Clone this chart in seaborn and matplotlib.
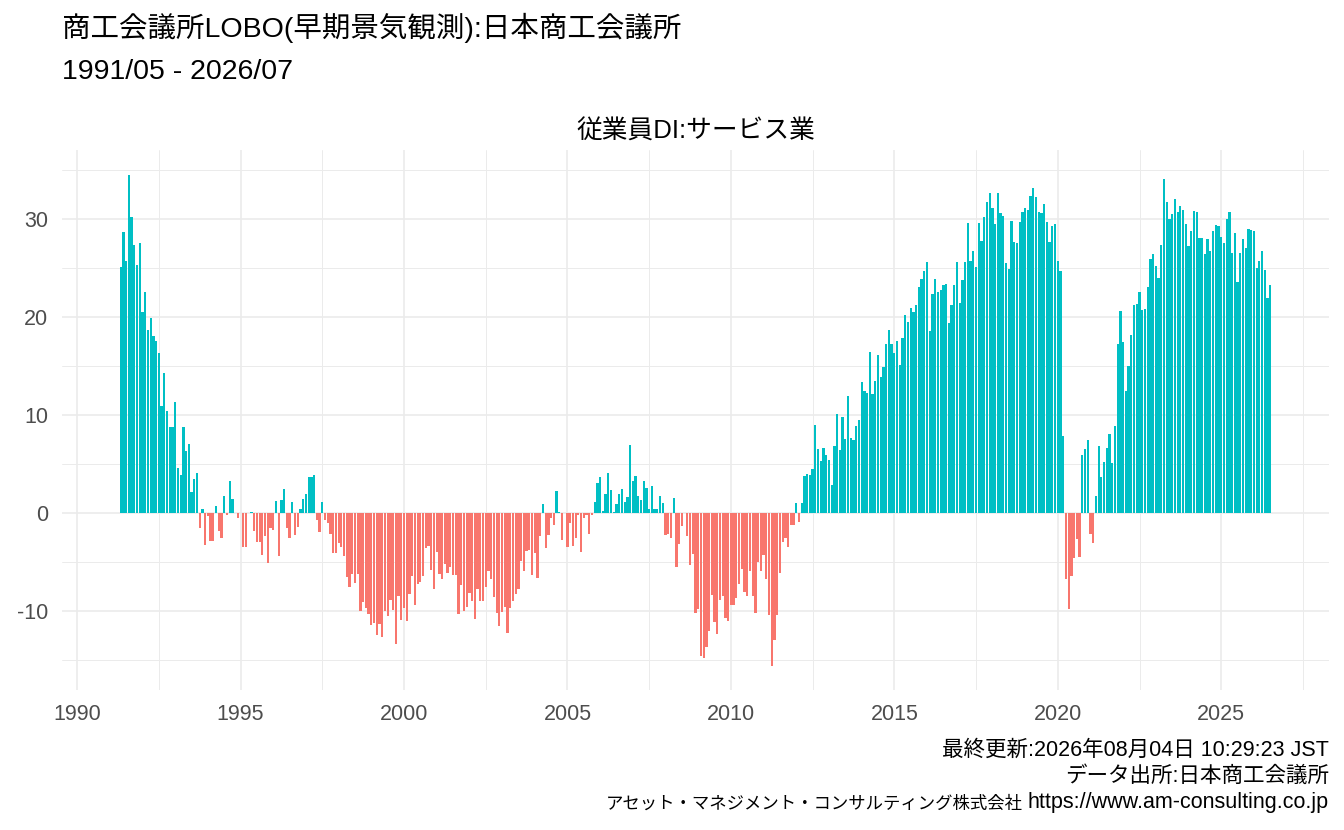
import numpy as np
import pandas as pd
import seaborn as sns
import matplotlib
matplotlib.use("Agg")
import matplotlib.pyplot as plt
from matplotlib.ticker import FixedLocator

# Monthly employee DI (service sector).
di_1991 = [25.1, 28.7, 25.7, 34.5, 30.2, 27.3, 25.3, 27.5]  # May-Dec
di_1992 = [20.5, 22.5, 18.7, 19.9, 18.1, 17.5, 16.3, 10.9, 14.3, 10.4, 8.8, 8.8]
di_1993 = [11.3, 4.6, 3.9, 8.8, 6.3, 7.0, 2.1, 3.5, 4.1, -1.5, 0.4, -3.3]
di_1994 = [-0.3, -2.9, -2.9, 0.7, -1.8, -2.6, 1.7, -0.2, 3.3, 1.4, 0.0, -0.5]
di_1995 = [0.0, -3.5, -3.5, 0.0, 0.1, -1.8, -3.0, -3.0, -4.3, -2.3, -5.1, -1.5]
di_1996 = [-1.7, 1.2, -4.4, 1.3, 2.5, -1.5, -2.6, 1.1, -2.2, -1.4, 0.4, 1.4]
di_1997 = [1.9, 3.7, 3.7, 3.9, -0.7, -1.9, 1.1, -0.7, -1.0, -2.1, -4.1, -4.1]
di_1998 = [-3.1, -3.5, -4.4, -6.5, -7.6, -6.2, -7.1, -6.2, -10.0, -9.1, -9.7, -10.3]
di_1999 = [-11.4, -11.2, -12.4, -11.3, -12.7, -10.0, -10.5, -8.9, -9.9, -13.4, -8.5, -10.9]
di_2000 = [-9.7, -11.0, -8.3, -6.4, -9.4, -7.2, -7.0, -6.4, -3.6, -3.4, -5.8, -7.8]
di_2001 = [-4.0, -6.2, -6.7, -5.2, -6.1, -5.5, -6.3, -6.3, -10.3, -7.3, -10.0, -9.6]
di_2002 = [-8.2, -9.0, -10.8, -7.8, -9.0, -9.0, -7.6, -5.9, -6.7, -8.6, -10.2, -11.5]
di_2003 = [-10.1, -9.6, -12.2, -9.7, -9.0, -8.3, -7.8, -4.9, -5.9, -3.9, -3.8, -6.3]
di_2004 = [-4.1, -6.6, -2.3, 0.9, -3.6, -2.2, -0.5, -1.2, 2.2, 0.1, -2.8, 0.0]
di_2005 = [-3.5, -1.0, -3.4, -2.6, -0.2, -4.0, -0.5, -0.2, -2.1, -0.2, 1.1, 3.1]
di_2006 = [3.7, 0.2, 1.9, 4.1, 2.3, 0.1, 0.9, 1.9, 2.4, 1.1, 1.6, 6.9]
di_2007 = [3.3, 3.8, 1.7, 1.3, 3.3, 2.6, 0.4, 2.8, 0.4, 0.4, 1.7, 1.0]
di_2008 = [-2.2, -2.1, -2.6, 1.5, -5.5, -3.2, -1.3, 0.0, -2.3, -5.3, -4.2, -10.2]
di_2009 = [-9.8, -14.6, -14.8, -13.7, -12.0, -8.4, -11.1, -12.3, -8.9, -8.5, -10.7, -11.0]
di_2010 = [-9.4, -9.4, -8.7, -7.2, -5.7, -8.1, -8.5, -5.9, -8.5, -10.2, -5.0, -5.9]
di_2011 = [-4.3, -6.7, -10.4, -15.6, -13.0, -10.4, -6.1, -3.0, -2.6, -3.5, -1.2, -1.2]
di_2012 = [1.0, -0.9, 1.0, 3.8, 4.0, 3.9, 4.5, 9.0, 6.5, 5.3, 6.6, 5.9]
di_2013 = [5.4, 2.9, 6.8, 10.1, 6.4, 9.8, 7.6, 11.9, 7.7, 7.4, 8.9, 9.5]
di_2014 = [13.4, 12.5, 12.2, 16.4, 12.1, 13.5, 16.1, 13.9, 14.9, 17.2, 18.7, 17.2]
di_2015 = [16.3, 17.5, 15.1, 17.9, 20.2, 19.5, 20.9, 20.5, 21.2, 23.1, 23.9, 24.7]
di_2016 = [25.6, 18.6, 22.3, 23.9, 22.6, 22.8, 23.3, 23.4, 19.4, 21.2, 23.3, 25.6]
di_2017 = [21.4, 23.8, 25.6, 29.6, 25.7, 26.7, 25.1, 29.6, 27.8, 30.2, 31.7, 32.7]
di_2018 = [31.1, 29.5, 32.7, 30.6, 30.3, 25.5, 24.9, 29.8, 27.7, 27.6, 29.7, 30.7]
di_2019 = [31.1, 30.9, 32.3, 33.2, 32.2, 30.7, 30.6, 31.5, 29.7, 27.7, 29.3, 29.5]
di_2020 = [25.7, 24.7, 7.9, -6.7, -9.8, -6.4, -4.6, -2.7, -4.5, 5.9, 6.5, 7.4]
di_2021 = [-2.1, -3.1, 1.7, 6.8, 3.7, 5.2, 6.6, 8.1, 5.1, 8.9, 17.2, 20.6]
di_2022 = [17.4, 12.4, 15.0, 18.2, 21.2, 21.3, 22.6, 20.7, 20.8, 23.1, 25.9, 26.4]
di_2023 = [25.2, 24.0, 27.3, 34.1, 31.7, 30.0, 30.5, 32.0, 30.7, 31.3, 30.9, 29.5]
di_2024 = [27.2, 28.8, 30.8, 30.7, 28.1, 28.1, 26.4, 28.0, 26.7, 28.8, 29.4, 29.3]
di_2025 = [28.2, 27.5, 30.0, 30.7, 26.5, 28.6, 23.6, 26.5, 28.0, 27.0, 29.0, 28.9]
di_2026 = [28.8, 25.0, 25.7, 26.7, 24.8, 21.9, 23.3]  # Jan-Jul

start_month = "1991-05-01"
year_ticks = [1990, 1995, 2000, 2005, 2010, 2015, 2020, 2025]
di_ticks = [-10, 0, 10, 20, 30]

title = "商工会議所LOBO(早期景気観測):日本商工会議所"
subtitle = "1991/05 - 2026/07"
panel_title = "従業員DI:サービス業"
caption_1 = "最終更新:2026年08月04日 10:29:23 JST"
caption_2 = "データ出所:日本商工会議所"
caption_3_name = "アセット・マネジメント・コンサルティング株式会社"
caption_3_url = "https://www.am-consulting.co.jp"

values = (di_1991 + di_1992 + di_1993 + di_1994 + di_1995 + di_1996 + di_1997
          + di_1998 + di_1999 + di_2000 + di_2001 + di_2002 + di_2003 + di_2004
          + di_2005 + di_2006 + di_2007 + di_2008 + di_2009 + di_2010 + di_2011
          + di_2012 + di_2013 + di_2014 + di_2015 + di_2016 + di_2017 + di_2018
          + di_2019 + di_2020 + di_2021 + di_2022 + di_2023 + di_2024 + di_2025
          + di_2026)

df = pd.DataFrame({"date": pd.date_range(start_month, periods=len(values), freq="MS"),
                   "di": values})
df["x"] = df["date"].dt.year + (df["date"].dt.month - 1) / 12
df["sign"] = np.where(df["di"] >= 0, "plus", "minus")

sns.set_theme(style="white")
plt.rcParams["font.family"] = ["Liberation Sans", "Noto Sans CJK JP"]

W, H = 1344, 830
fig = plt.figure(figsize=(W / 100, H / 100), dpi=100)
ax = fig.add_axes([62 / W, 1 - 690 / H, (1329 - 62) / W, (690 - 150) / H])

sns.barplot(
    data=df, x="x", y="di", hue="sign",
    palette={"plus": "#00BFC4", "minus": "#F8766D"},
    native_scale=True, dodge=False, width=0.83, errorbar=None,
    saturation=1, legend=False, linewidth=0, ax=ax,
)

# Limits like ggplot's 5% expansion
ax.set_xlim(1989.537, 2028.297)
ax.set_ylim(-18.06, 37.04)

ax.xaxis.set_major_locator(FixedLocator(year_ticks))
ax.xaxis.set_minor_locator(FixedLocator([y + 2.5 for y in range(1985, 2030, 5)]))
ax.yaxis.set_major_locator(FixedLocator(di_ticks))
ax.yaxis.set_minor_locator(FixedLocator([-15, -5, 5, 15, 25, 35]))
ax.set_xticklabels([str(y) for y in year_ticks])
ax.set_yticklabels([str(v) for v in di_ticks])

ax.set_axisbelow(True)
ax.grid(which="major", color="#EBEBEB", linewidth=1.2)
ax.grid(which="minor", color="#EBEBEB", linewidth=0.7)
for s in ax.spines.values():
    s.set_visible(False)
ax.tick_params(which="both", length=0, labelsize=15.5, labelcolor="#4D4D4D")
ax.tick_params(axis="x", pad=10)
ax.tick_params(axis="y", pad=10)
ax.set_xlabel("")
ax.set_ylabel("")
ax.set_facecolor("white")

ax.set_title(panel_title, fontsize=18.5, color="black", pad=8.5)

fig.text(62 / W, 1 - 28 / H, title, fontsize=20.5, va="center", ha="left",
         color="black")
fig.text(62 / W, 1 - 72 / H, subtitle, fontsize=20.5, va="center", ha="left",
         color="black")

fig.text(1329 / W, 1 - 750 / H, caption_1, fontsize=15.5, va="center",
         ha="right", color="black")
fig.text(1329 / W, 1 - 776 / H, caption_2, fontsize=15.5, va="center",
         ha="right", color="black")
url = fig.text(1329 / W, 1 - 802 / H, caption_3_url, fontsize=15.5,
               va="center", ha="right", color="black")
fig.canvas.draw()
url_left = url.get_window_extent().x0
fig.text((url_left - 5) / W, 1 - 803 / H, caption_3_name, fontsize=12.5,
         va="center", ha="right", color="black")

fig.savefig("out.png", dpi=100, facecolor="white")
